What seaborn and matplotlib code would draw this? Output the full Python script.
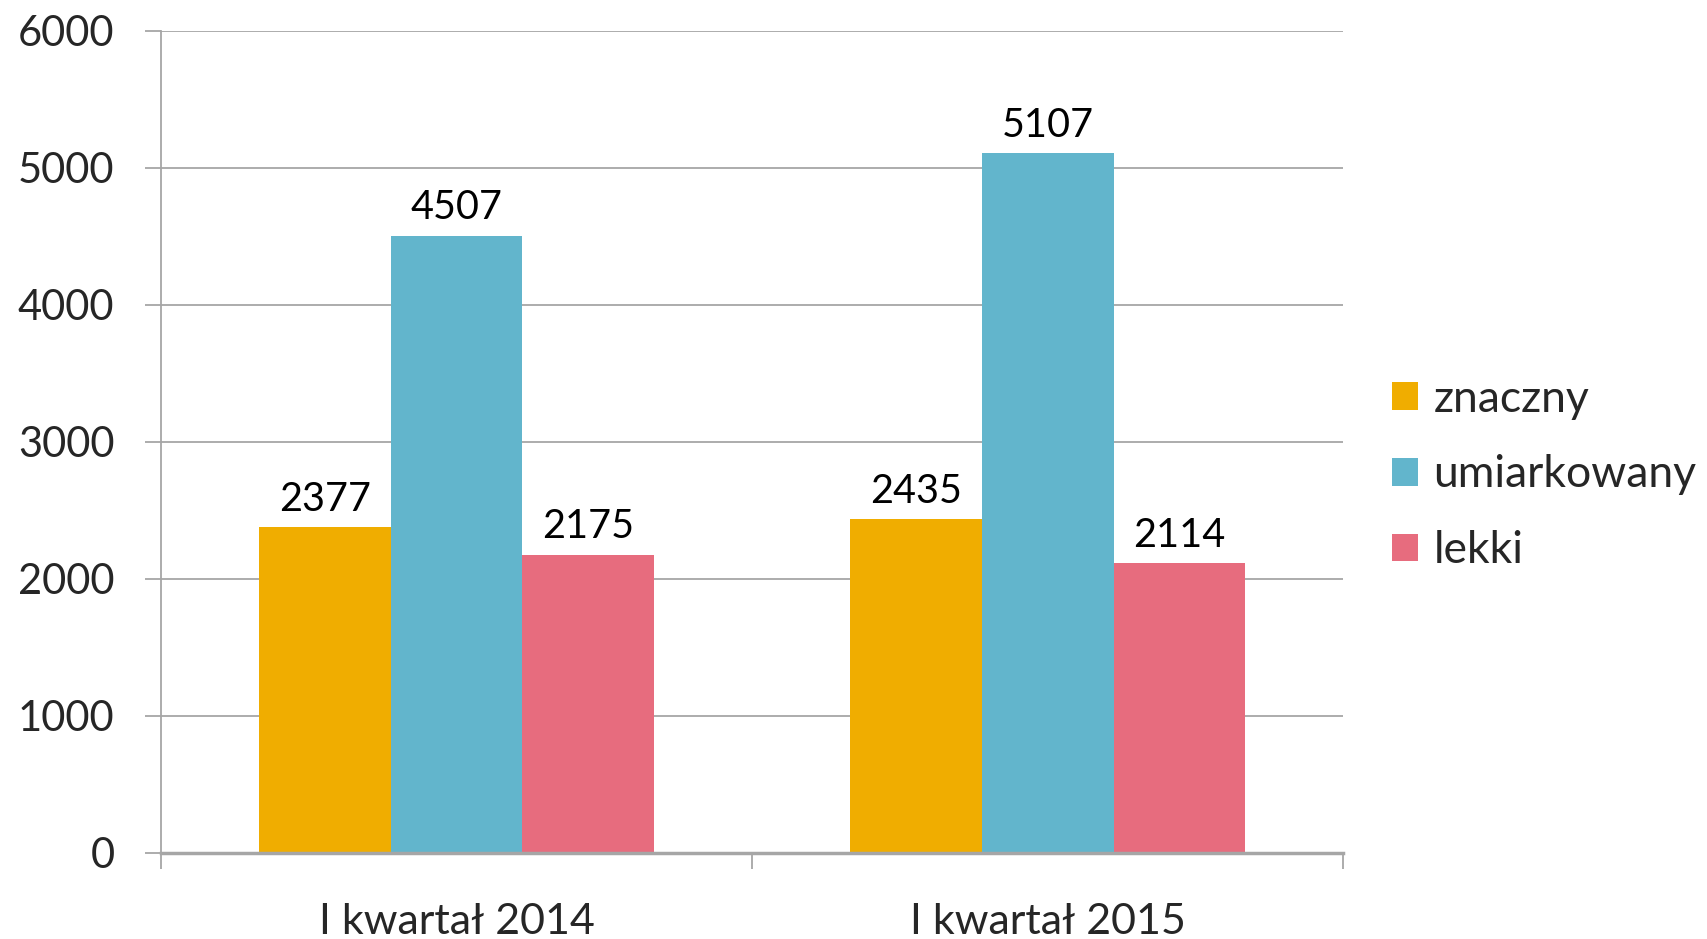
import matplotlib
matplotlib.use("Agg")
import matplotlib.pyplot as plt
import seaborn as sns
import pandas as pd

# data
quarters = ["I kwartał 2014", "I kwartał 2015"]
levels = ["znaczny", "umiarkowany", "lekki"]
znaczny = [2377, 2435]
umiarkowany = [4507, 5107]
lekki = [2175, 2114]
colors = ["#F0AD00", "#62B5CC", "#E76C7E"]

rows = []
for name, vals in zip(levels, [znaczny, umiarkowany, lekki]):
    for q, v in zip(quarters, vals):
        rows.append({"kwartal": q, "stopien": name, "liczba": v})
df = pd.DataFrame(rows)

sns.set_style("white")
plt.rcParams["font.family"] = ["Lato", "DejaVu Sans"]

fig = plt.figure(figsize=(17.07, 9.39), dpi=100)
ax = fig.add_axes([0.0943, 0.0916, 0.6927, 0.8754])

sns.barplot(data=df, x="kwartal", y="liczba", hue="stopien", hue_order=levels,
            order=quarters, palette=colors, saturation=1, width=0.668,
            linewidth=0, ax=ax)

for cont in ax.containers:
    ax.bar_label(cont, padding=7, fontsize=28.5, color="black")

ax.set_ylim(0, 6000)
ax.set_xlim(-0.5, 1.5)
ax.set_yticks(range(0, 6001, 1000))
ax.yaxis.grid(True, color="#a6a6a6", linewidth=1.3)
ax.set_axisbelow(True)
ax.set_xlabel("")
ax.set_ylabel("")

for side in ["top", "right"]:
    ax.spines[side].set_visible(False)
ax.spines["left"].set_color("#a6a6a6")
ax.spines["left"].set_linewidth(1.3)
ax.spines["bottom"].set_color("#a6a6a6")
ax.spines["bottom"].set_linewidth(2.5)

ax.tick_params(axis="y", length=11.5, width=1.3, color="#a6a6a6", pad=22,
               labelsize=30, left=True)
ax.tick_params(axis="x", which="major", length=0, pad=36, labelsize=31)
ax.set_xticks([-0.5, 0.5, 1.5], minor=True)
ax.tick_params(axis="x", which="minor", length=11.5, width=1.3,
               color="#a6a6a6", bottom=True)

leg = ax.legend(loc="center left", bbox_to_anchor=(1.0415, 0.46), frameon=False,
                fontsize=32, handlelength=0.58, handleheight=0.58,
                handletextpad=0.34, labelspacing=0.78,
                borderaxespad=0, borderpad=0)

fig.savefig("out.png", dpi=100)
